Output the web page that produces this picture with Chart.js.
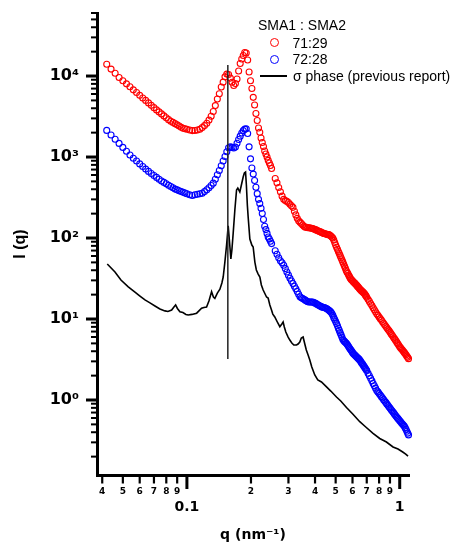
<!DOCTYPE html>
<html>
<head>
<meta charset="utf-8">
<script src="https://cdn.jsdelivr.net/npm/chart.js@4"></script>
<style>
html,body{margin:0;padding:0;background:#fff;}
#wrap{position:relative;width:452px;height:542px;overflow:hidden;}
#wrap canvas{position:absolute;left:0;top:0;}
.lg{position:absolute;font-family:"Liberation Sans",Arial,sans-serif;font-size:14px;line-height:16px;color:#000;white-space:nowrap;}
.ring{position:absolute;box-sizing:border-box;width:9px;height:9px;border-radius:50%;border:1.3px solid;}
.bar{position:absolute;height:2px;background:#000;}
</style>
</head>
<body>
<div id="wrap">
<canvas id="c" width="452" height="542"></canvas>
<div class="lg" style="left:258px;top:17px;">SMA1 : SMA2</div>
<div class="ring" style="left:269.5px;top:37.8px;border-color:#ff0000;"></div>
<div class="lg" style="left:292.5px;top:34.5px;">71:29</div>
<div class="ring" style="left:269.5px;top:54.5px;border-color:#0000ff;"></div>
<div class="lg" style="left:292.5px;top:51.2px;">72:28</div>
<div class="bar" style="left:260px;top:75px;width:27px;"></div>
<div class="lg" style="left:293px;top:68px;">σ phase (previous report)</div>
</div>
<script>
// ---- data (q in nm^-1, I(q) arbitrary units) ----
const qGrid = [
  0.042,0.044,0.046,0.048,0.050,0.052,0.054,0.056,0.058,0.060,
  0.062,0.064,0.066,0.068,0.070,0.072,0.074,0.076,0.078,0.080,
  0.082,0.084,0.086,0.088,0.090,0.092,0.094,0.096,0.098,0.100,
  0.103,0.106,0.109,0.112,0.115,0.118,0.121,0.124,0.127,0.130,
  0.133,0.136,0.139,0.142,0.145,0.148,0.151,0.154,0.157,0.160,
  0.163,0.166,0.169,0.172,0.175,0.178,0.181,0.184,0.187,0.190,
  0.193,0.196,0.199,0.202,0.205,0.208,0.211,0.214,0.217,0.220,
  0.223,0.226,0.229,0.232,0.235,0.238,0.241,0.244,0.247,0.250,
  0.260,0.265,0.270,0.275,0.280,0.285,0.290,0.295,0.300,0.305,
  0.310,0.315,0.320,0.325,0.330,0.335,0.340,0.345,0.350,0.355,
  0.360,0.365,0.370,0.375,0.380,0.385,0.390,0.395,0.400,0.405,
  0.410,0.415,0.420,0.425,0.430,0.435,0.440,0.445,0.450,0.455,
  0.460,0.465,0.470,0.475,0.480,0.485,0.490,0.495,0.500,0.505,
  0.510,0.515,0.520,0.525,0.530,0.535,0.540,0.545,0.550,0.555,
  0.560,0.565,0.570,0.575,0.580,0.585,0.590,0.595,0.600,0.605,
  0.610,0.615,0.620,0.625,0.630,0.635,0.640,0.645,0.650,0.655,
  0.660,0.665,0.670,0.675,0.680,0.685,0.690,0.695,0.700,
  0.71,0.72,0.73,0.74,0.75,0.76,0.77,0.78,0.79,0.80,
  0.81,0.82,0.83,0.84,0.85,0.86,0.87,0.88,0.89,0.90,
  0.91,0.92,0.93,0.94,0.95,0.96,0.97,0.98,0.99,1.00,
  1.01,1.02,1.03,1.04,1.05,1.06,1.07,1.08,1.09,1.10
];
const sma7129 = [
  13950,12170,10800,9610,8750,8010,7360,6755,6256,5776,
  5365,4998,4655,4347,4072,3815,3604,3405,3217,3048,
  2894,2767,2674,2584,2497,2414,2333,2261,2236,2204,
  2154,2118,2124,2154,2198,2307,2442,2615,2855,3190,
  3645,4311,5200,6046,7315,8408,9773,10556,10435,9421,
  8384,7633,8078,9184,11527,14266,16218,17915,19502,19230,
  15760,11206,8725,7009,5458,4385,3444,2822,2280,2018,
  1717,1510,1348,1186,1089,1000,910,843,785,721,
  544,480,421,372,329,300,291,283,274,261,
  250,239,214,193,175,163,157,151,145,140,
  136,136,134,134,133,132,131,129,127,126,
  124,122,120,119,117,115,114,113,112,111,
  110,110,108,106,103,99.7,94.2,88.0,81.9,77.0,
  72.5,68.1,64.4,60.6,57.1,53.8,50.7,47.8,45.0,42.5,
  39.9,38.1,36.6,35.0,33.6,32.2,31.0,30.3,29.6,28.9,
  28.2,27.7,27.0,26.4,25.8,25.1,24.6,23.9,23.3,22.9,
  22.4,22.0,21.6,21.2,20.8,20.3,19.7,19.2,18.6,
  17.5,16.5,15.5,14.7,13.8,13.0,12.3,11.6,11.1,10.6,
  10.1,9.69,9.26,8.87,8.50,8.15,7.81,7.48,7.19,6.89,
  6.60,6.35,6.08,5.83,5.60,5.38,5.14,4.94,4.74,4.55,
  4.40,4.26,4.13,4.00,3.87,3.74,3.61,3.48,3.36,3.24
];
const sma7228 = [
  2130,1869,1654,1472,1314,1179,1061,967,893,822,
  763,709,664,626,591,560,531,506,486,467,
  449,432,417,402,393,384,375,368,359,352,
  342,335,342,347,352,357,374,395,417,445,
  476,532,603,683,781,893,1017,1163,1302,1333,
  1314,1291,1325,1481,1644,1811,1973,2118,2210,2229,
  1950,1336,950,731,615,514,423,353,300,266,
  233,201,169,140,127,114,103,97.2,91.3,85.3,
  69.5,62.9,56.9,52.5,49.6,46.1,41.9,38.1,34.8,31.8,
  29.5,27.4,25.4,23.6,21.9,20.2,18.8,18.3,17.9,17.5,
  17.1,16.7,16.3,16.2,16.2,16.2,16.2,16.0,15.7,15.5,
  15.1,14.9,14.6,14.4,14.1,14.0,13.9,13.8,13.6,13.4,
  13.1,12.8,12.5,12.2,11.7,11.1,10.4,9.86,9.29,8.78,
  8.24,7.70,7.23,6.79,6.37,5.98,5.63,5.43,5.29,5.17,
  5.06,4.91,4.73,4.58,4.42,4.27,4.13,3.99,3.87,3.75,
  3.67,3.59,3.51,3.44,3.37,3.30,3.24,3.17,3.09,3.00,
  2.91,2.83,2.76,2.67,2.60,2.52,2.45,2.38,2.31,
  2.14,1.99,1.85,1.73,1.60,1.50,1.40,1.31,1.26,1.20,
  1.15,1.10,1.06,1.01,0.972,0.934,0.895,0.860,0.827,0.794,
  0.765,0.736,0.709,0.683,0.658,0.635,0.612,0.593,0.573,0.555,
  0.538,0.521,0.506,0.491,0.476,0.456,0.434,0.412,0.390,0.371
];
const sigmaQ = [
  0.04224,0.04592,0.04898,0.05302,0.05700,0.06017,0.06352,0.06705,0.07077,0.07468,
  0.07881,0.08142,0.08477,0.08690,0.08849,0.09024,0.09271,0.09577,0.09892,0.1014,
  0.1055,0.1111,0.1139,0.1172,0.1202,0.1237,0.1269,0.1306,0.1332,0.1353,
  0.1390,0.1429,0.1460,0.1481,0.1508,0.1536,0.1563,0.1583,0.1609,0.1627,
  0.1650,0.1680,0.1711,0.1735,0.1773,0.1803,0.1838,0.1862,0.1886,0.1903,
  0.1923,0.1940,0.1976,0.2019,0.2048,0.2086,0.2120,0.2162,0.2202,0.2238,
  0.2282,0.2367,0.2408,0.2453,0.2498,0.2533,0.2588,0.2674,0.2733,0.2793,
  0.2832,0.2869,0.2916,0.2990,0.3045,0.3112,0.3180,0.3273,0.3330,0.3392,
  0.3448,0.3516,0.3581,0.3640,0.3711,0.3780,0.3862,0.3989,0.4121,0.4289,
  0.4529,0.4744,0.5045,0.5284,0.5621,0.6016,0.6490,0.6925,0.7491,0.8056,
  0.8661,0.9302,0.9818,1.033,1.067,1.094
];
const sigmaI = [
  47.8,38.0,30.3,25.0,21.5,19.2,17.2,15.8,14.5,13.3,
  12.6,12.4,12.9,14.1,14.9,13.5,12.3,12.0,11.4,11.2,
  11.4,11.8,12.6,13.6,13.9,14.1,16.7,21.7,18.7,18.0,
  20.9,23.3,27.8,33.0,50.5,81.9,141,94.5,55.1,71.1,
  115,222,391,414,370,451,566,635,653,451,
  256,182,97.2,81.9,77.4,50.5,40.3,35.9,33.0,26.3,
  22.8,18.7,18.2,14.9,12.9,11.5,10.6,8.93,8.03,8.68,
  9.18,7.96,6.91,5.99,5.50,5.06,4.78,4.78,4.91,5.20,
  5.83,5.99,4.91,4.14,3.59,3.12,2.56,2.04,1.77,1.67,
  1.45,1.29,1.09,0.972,0.808,0.672,0.540,0.464,0.388,0.335,
  0.303,0.263,0.248,0.228,0.215,0.203
];
// vertical marker line (q position, lower and upper I)
const markerQ = [0.1557, 0.1557];
const markerI = [3.2, 13700];

// ---- axes ----
const xMin = 0.0378, xMax = 1.1057;
const yMin = 0.1186, yMax = 60000;
const xTickValues = [0.04,0.05,0.06,0.07,0.08,0.09,0.1,0.2,0.3,0.4,0.5,0.6,0.7,0.8,0.9,1];
const xTickLabels = ['4','5','6','7','8','9',['','0.1'],'2','3','4','5','6','7','8','9',['','1']];
const xTickMajor  = [false,false,false,false,false,false,true,false,false,false,false,false,false,false,false,true];
const yDecades = [0.1,1,10,100,1000,10000];
const yMantissas = [1,2,3,4,5,6,7,8,9];
const yPowerLabels = {'0.1':'','1':'10\u2070','10':'10\u00b9','100':'10\u00b2','1000':'10\u00b3','10000':'10\u2074'};

const yTickValues = [], yTickLabels = [], yTickMajor = [];
yDecades.forEach(d => yMantissas.forEach(m => {
  const v = +(d * m).toPrecision(6);
  if (v >= yMin && v <= yMax) {
    yTickValues.push(v);
    yTickMajor.push(m === 1);
    yTickLabels.push(m === 1 ? yPowerLabels[String(d)] : '');
  }
}));

const FONT = '"Liberation Sans", Arial, sans-serif';
const TICKFONT = '"DejaVu Sans", "Liberation Sans", sans-serif';

const tickMarks = {
  id: 'tickMarks',
  afterDraw(chart) {
    const ctx = chart.ctx, xs = chart.scales.x, ys = chart.scales.y;
    ctx.save();
    ctx.strokeStyle = '#000';
    ctx.lineCap = 'butt';
    xs.ticks.forEach(t => {
      const px = xs.getPixelForValue(t.value);
      ctx.lineWidth = t.major ? 3 : 2.2;
      ctx.beginPath();
      ctx.moveTo(px, xs.top);
      ctx.lineTo(px, xs.top + (t.major ? 14 : 8.5));
      ctx.stroke();
    });
    ys.ticks.forEach(t => {
      const py = ys.getPixelForValue(t.value);
      ctx.lineWidth = t.major ? 3 : 2;
      ctx.beginPath();
      ctx.moveTo(ys.right, py);
      ctx.lineTo(ys.right - (t.major ? 11 : 6), py);
      ctx.stroke();
    });
    ctx.restore();
  }
};

const pts = (xs, ys) => xs.map((x, i) => ({x: x, y: ys[i]}));

new Chart(document.getElementById('c'), {
  type: 'scatter',
  data: {
    datasets: [
      {label: 'marker', data: pts(markerQ, markerI), showLine: true, borderColor: '#222', borderWidth: 1.5, pointRadius: 0},
      {label: '71:29', data: pts(qGrid, sma7129), showLine: false, borderColor: '#ff0000', backgroundColor: 'rgba(0,0,0,0)', pointRadius: 3, pointBorderWidth: 1.1, pointHoverRadius: 3, clip: false},
      {label: '72:28', data: pts(qGrid, sma7228), showLine: false, borderColor: '#0000ff', backgroundColor: 'rgba(0,0,0,0)', pointRadius: 3, pointBorderWidth: 1.1, pointHoverRadius: 3, clip: false},
      {label: 'σ phase (previous report)', data: pts(sigmaQ, sigmaI), showLine: true, borderColor: '#000', borderWidth: 1.6, pointRadius: 0, tension: 0}
    ]
  },
  options: {
    responsive: false,
    animation: false,
    devicePixelRatio: 1,
    layout: {padding: {left: 0, right: 43, top: 13, bottom: 0}},
    plugins: {legend: {display: false}, tooltip: {enabled: false}},
    scales: {
      x: {
        type: 'logarithmic', position: 'bottom', min: xMin, max: xMax,
        grid: {display: false, drawTicks: false},
        border: {display: true, width: 3, color: '#000'},
        afterBuildTicks: s => { s.ticks = xTickValues.map((v, i) => ({value: v, major: xTickMajor[i]})); },
        afterFit: s => { s.height = 67; s.paddingLeft = 0; s.paddingRight = 0; },
        ticks: {
          autoSkip: false, maxRotation: 0, minRotation: 0, padding: 11, color: '#000',
          callback: (v, i) => xTickLabels[i],
          font: c => (c.tick && c.tick.major) ? {family: TICKFONT, size: 14, weight: 'bold', lineHeight: 1} : {family: TICKFONT, size: 9, weight: 'bold', lineHeight: 1.3}
        },
        title: {display: true, text: 'q (nm\u207b\u00b9)', color: '#000', font: {family: TICKFONT, size: 14, weight: 'bold', lineHeight: 1}, padding: {top: 0, bottom: 0}}
      },
      y: {
        type: 'logarithmic', position: 'left', min: yMin, max: yMax,
        grid: {display: false, drawTicks: false},
        border: {display: true, width: 3, color: '#000'},
        afterBuildTicks: s => { s.ticks = yTickValues.map((v, i) => ({value: v, major: yTickMajor[i]})); },
        afterFit: s => { s.width = 97; s.paddingTop = 0; s.paddingBottom = 0; },
        ticks: {
          autoSkip: false, padding: 18, color: '#000',
          callback: (v, i) => yTickLabels[i],
          font: {family: TICKFONT, size: 16, weight: 'bold'}
        },
        title: {display: true, text: 'I (q)', color: '#000', font: {family: FONT, size: 16, weight: 'bold', lineHeight: 1}, padding: {top: 13, bottom: 0}}
      }
    }
  },
  plugins: [tickMarks]
});
</script>
</body>
</html>
